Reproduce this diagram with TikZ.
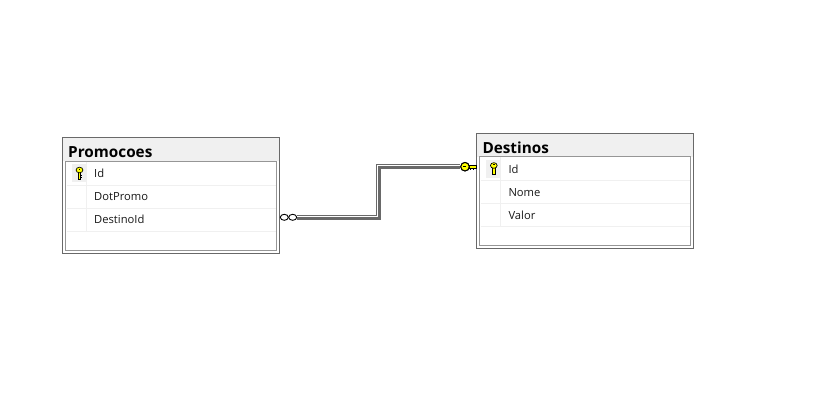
\documentclass[tikz,border=0pt]{standalone}
\usepackage{fontspec}
\setmainfont{Open Sans}
\usepackage{xcolor}
\usetikzlibrary{positioning,calc,shapes.geometric}
\definecolor{headgrey}{RGB}{240,240,240}
\definecolor{framegrey}{RGB}{105,105,105}
\definecolor{innergrey}{RGB}{150,150,150}
\definecolor{rulegrey}{RGB}{240,240,240}
\definecolor{linkgrey}{RGB}{105,105,105}
\definecolor{keyyellow}{RGB}{255,255,0}
\tikzset{
  tableframe/.style={draw=framegrey,line width=1pt,fill=white,inner sep=0pt,outer sep=0pt,minimum width=216.5pt,minimum height=115.5pt},
  headband/.style={fill=headgrey},
  innerframe/.style={draw=innergrey,line width=1pt,fill=white},
  rowrule/.style={draw=rulegrey,line width=1pt},
  tabletitle/.style={font=\fontsize{15.3}{17}\selectfont\bfseries,text=black,inner sep=0pt,anchor=base west},
  rowlabel/.style={font=\fontsize{11.2}{13}\selectfont,text=black!90,inner sep=0pt,anchor=base west},
  keycell/.style={fill=headgrey},
  manyring/.style={draw=black,line width=0.9pt,fill=white,ellipse,inner sep=0pt,minimum width=8pt,minimum height=6pt},
  keyring/.style={draw=black,line width=1pt,fill=keyyellow,circle,inner sep=0pt,minimum size=8.5pt},
  linkline/.style={draw=linkgrey,line width=4.6pt},
  linkgap/.style={draw=white,line width=1pt}
}
% small upright key for a primary column
\newcommand{\rowkey}[1]{
  \begin{scope}[shift={#1}]
    \fill[keycell] (-7.5,-9) rectangle (7.5,9);
    \draw[black,line width=0.7pt,fill=keyyellow] (-1.2,-1) rectangle (1.2,6);
    \draw[black,line width=0.7pt,fill=keyyellow] (0,-3) ellipse (3.4 and 2.8);
    \draw[black,line width=0.7pt] (1.2,2) -- (2.6,2) (1.2,4) -- (2.6,4);
    \fill[black] (-0.9,-4.2) rectangle (0.9,-3.2);
  \end{scope}
}
% one table: name, corner, title, two columns
\newcommand{\tablebox}[6]{
  \node[tableframe,anchor=north west] (#1) at (#2,#3) {};
  \begin{scope}[shift={(#2,#3)}]
    \fill[headband] (0.5,0.5) rectangle (216,23.5);
    \draw[innerframe] (3,23.5) rectangle (213.5,112.5);
    \draw[rowrule] (4,47.5) -- (213,47.5) (4,70.5) -- (213,70.5) (4,93.5) -- (213,93.5);
    \draw[rowrule] (24,24) -- (24,93.5);
    \node[tabletitle] (#1title) at (5.5,20) {#4};
    \node[rowlabel] (#1rowa) at (31.5,40.3) {#5};
    \node[rowlabel] (#1rowb) at (31.5,63.3) {#6};
    \rowkey{(17,35.5)}
  \end{scope}
}
\newcommand{\thirdrow}[4]{\node[rowlabel] (#1) at (#2,#3) {#4};}
\begin{document}
\begin{tikzpicture}[x=1pt,y=-1pt]
\useasboundingbox (0,0) rectangle (825,405);
\fill[white] (0,0) rectangle (825,405);
\tablebox{promocoes}{62.5}{137.5}{Promocoes}{Id}{DotPromo}
\thirdrow{promocoesrowc}{94}{223.8}{DestinoId}
\tablebox{destinos}{476.8}{133}{Destinos}{Id}{Nome}
\thirdrow{destinosrowc}{508.3}{219.3}{Valor}
\node[manyring] (ringa) at (284.3,217.3) {};
\node[manyring,right=-0.5pt of ringa] (ringb) {};
\node[keyring] (keyhead) at (465,166.7) {};
\coordinate (keytip) at (476.5,166.7);
\coordinate (linkbend) at (378.6,190);
\draw[linkline] (ringb.east) -| (linkbend) |- (keyhead.west);
\draw[linkgap] ([yshift=0.9pt]ringb.east) -| ([xshift=-0.9pt]linkbend) |- ([yshift=0.9pt]keyhead.west);
\draw[black,line width=0.8pt,fill=keyyellow] ($(keyhead.east)+(-0.5,-1.6)$) rectangle ($(keytip)+(0,1.2)$);
\draw[black,line width=1pt] ($(keytip)+(-6,1.2)$) -- ++(0,2) ($(keytip)+(-3.5,1.2)$) -- ++(0,2) ($(keytip)+(-1,1.2)$) -- ++(0,1.5);
\node[keyring] at (keyhead) {};
\fill[black] ($(keyhead)+(-2.2,-0.7)$) rectangle ++(3.2,1.4);
\end{tikzpicture}
\end{document}
